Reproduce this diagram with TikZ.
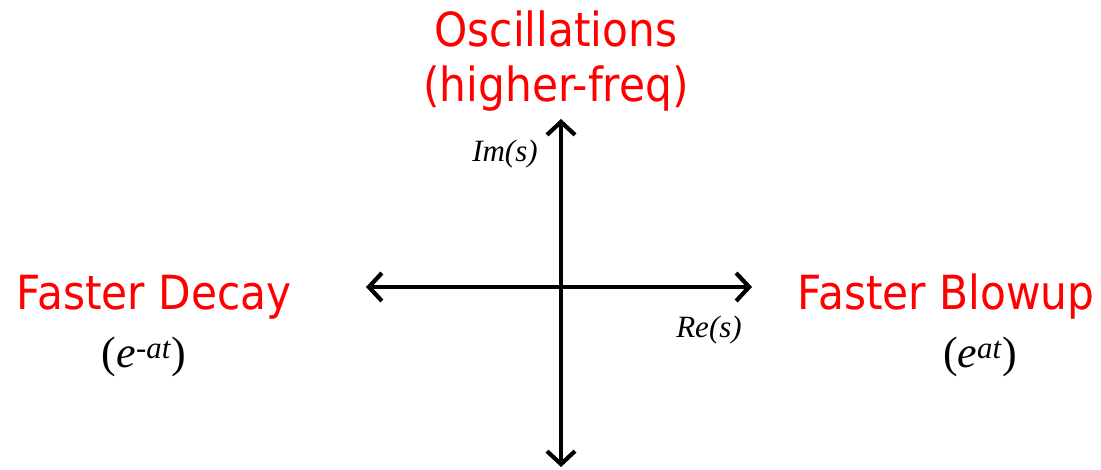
\documentclass[tikz,border=0pt]{standalone}
\usepackage{fontspec}
\setmainfont{Liberation Serif}
\newfontfamily\redsans[FakeStretch=0.9]{DejaVu Sans}
\usetikzlibrary{arrows.meta}
\definecolor{lblred}{RGB}{255,0,0}
\tikzset{
  axis/.style={line width=4.2pt, line cap=round, {Straight Barb[length=13pt,width=28pt,line width=4.2pt]}-{Straight Barb[length=13pt,width=28pt,line width=4.2pt]}},
  redlbl/.style={text=lblred, font=\redsans\fontsize{47}{52}\selectfont, inner sep=0pt},
  mathlbl/.style={font=\fontsize{44}{48}\selectfont, inner sep=0pt},
  axlbl/.style={font=\fontsize{31}{34}\selectfont\itshape, inner sep=0pt}
}
\begin{document}
\begin{tikzpicture}[x=1pt,y=-1pt]
\useasboundingbox (0,0) rectangle (1101,470);
\coordinate (L) at (366,287);
\coordinate (R) at (752,287);
\coordinate (T) at (561,119);
\coordinate (B) at (561,467);
\draw[axis] (L) -- (R);
\draw[axis] (B) -- (T);
\node[redlbl, anchor=base] (osc) at (556,47) {Oscillations};
\node[redlbl, anchor=base] (hf) at (556,102) {(higher-freq)};
\node[redlbl, anchor=base] (fd) at (154,310) {Faster Decay};
\node[redlbl, anchor=base] (fb) at (946,310) {Faster Blowup};
\node[mathlbl, anchor=base] (ed) at (144,368) {(\textit{e}\textsuperscript{\textit{-at}})};
\node[mathlbl, anchor=base] (eb) at (980,368) {(\textit{e}\textsuperscript{\textit{at}})};
\node[axlbl, anchor=base] (im) at (505,162) {Im(s)};
\node[axlbl, anchor=base] (re) at (709,338) {Re(s)};
\end{tikzpicture}
\end{document}
